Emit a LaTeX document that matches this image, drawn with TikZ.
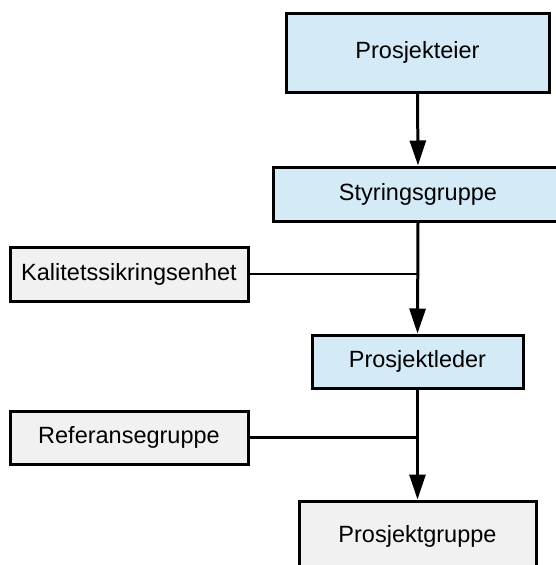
\documentclass[tikz,border=0pt]{standalone}
\usepackage{fontspec}
\setmainfont{Liberation Sans}
\usetikzlibrary{arrows.meta}
\definecolor{leadblue}{HTML}{D4EAF7}
\definecolor{supportgray}{HTML}{F1F1F1}
\tikzset{
  orgbox/.style={draw=black, line width=3pt, inner sep=0pt, font=\fontsize{23.5}{28}\selectfont},
  leadbox/.style={orgbox, fill=leadblue},
  sidebox/.style={orgbox, fill=supportgray},
  flow/.style={line width=3pt, -{Triangle[length=25pt,width=16pt]}},
  link/.style={line width=2.2pt}
}
\begin{document}
\begin{tikzpicture}[x=1pt,y=-1pt]
  \useasboundingbox (0,0) rectangle (555,565);
  \node[leadbox, minimum width=263pt, minimum height=79pt] (eier) at (417.5,52.5) {Prosjekteier};
  \node[leadbox, minimum width=290pt, minimum height=54pt] (styr) at (418,194) {Styringsgruppe};
  \node[sidebox, minimum width=238pt, minimum height=54pt] (kval) at (129,274) {Kalitetssikringsenhet};
  \node[leadbox, minimum width=211pt, minimum height=53pt] (leder) at (417.5,361.5) {Prosjektleder};
  \node[sidebox, minimum width=238pt, minimum height=53pt] (ref) at (129,437.5) {Referansegruppe};
  \node[sidebox, minimum width=237pt, minimum height=78pt] (gruppe) at (417.5,540) {\raisebox{12pt}{Prosjektgruppe}};

  \draw[flow] (eier.south) -- (styr.north);
  \draw[flow] (styr.south) -- (leder.north);
  \draw[flow] (leder.south) -- (gruppe.north);
  \draw[link] (kval.east) -- (kval.east -| styr.south);
  \draw[link] (ref.east) -- (ref.east -| leder.south);
\end{tikzpicture}
\end{document}
